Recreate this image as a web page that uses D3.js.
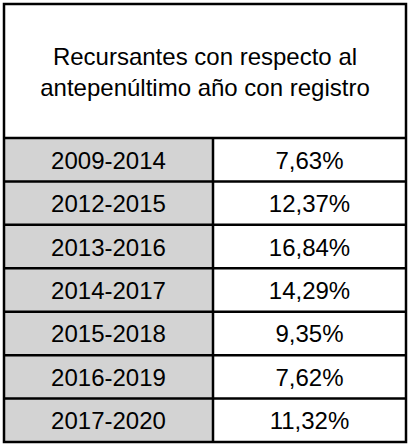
<!DOCTYPE html>
<html><head><meta charset="utf-8">
<script src="https://cdn.jsdelivr.net/npm/d3@7"></script>
<style>body{margin:0;background:#fff}</style>
</head><body><div id="chart"></div>
<script>
var periods = ['2009-2014','2012-2015','2013-2016','2014-2017','2015-2018','2016-2019','2017-2020'];
var values = ['7,63%','12,37%','16,84%','14,29%','9,35%','7,62%','11,32%'];
var titleLines = ['Recursantes con respecto al','antepenúltimo año con registro'];

var svg = d3.select('#chart').append('svg').attr('width', 410).attr('height', 446);
var x0 = 4, x1 = 406, y0 = 4, headBottom = 138, y1 = 442, mid = 213;
var y = d3.scaleBand().domain(periods).range([headBottom, y1]);
var font = 'Liberation Sans, Arial, sans-serif', size = '24px';

svg.selectAll('.cell').data(periods).enter().append('rect')
	.attr('x', x0).attr('y', function(d) { return y(d); })
	.attr('width', mid - x0).attr('height', y.bandwidth())
	.style('fill', '#d3d3d3');

svg.selectAll('.title').data(titleLines).enter().append('text')
	.attr('x', (x0 + x1) / 2).attr('y', function(d, i) { return 65 + i * 31; })
	.attr('text-anchor', 'middle')
	.style('font-family', font).style('font-size', size)
	.text(function(d) { return d; });

svg.selectAll('.per').data(periods).enter().append('text')
	.attr('x', (x0 + mid) / 2).attr('y', function(d) { return y(d) + y.bandwidth() / 2 + 9; })
	.attr('text-anchor', 'middle')
	.style('font-family', font).style('font-size', size)
	.text(function(d) { return d; });

svg.selectAll('.val').data(values).enter().append('text')
	.attr('x', (mid + x1) / 2).attr('y', function(d, i) { return y(periods[i]) + y.bandwidth() / 2 + 9; })
	.attr('text-anchor', 'middle')
	.style('font-family', font).style('font-size', size)
	.text(function(d) { return d; });

var lines = svg.append('g').style('stroke', '#000').style('stroke-width', 2.5);
periods.forEach(function(p) {
	lines.append('line').attr('x1', x0).attr('x2', x1).attr('y1', y(p)).attr('y2', y(p));
});
lines.append('line').attr('x1', mid).attr('x2', mid).attr('y1', headBottom).attr('y2', y1);
lines.append('rect').attr('x', x0).attr('y', y0).attr('width', x1 - x0).attr('height', y1 - y0).style('fill', 'none');
</script></body></html>
